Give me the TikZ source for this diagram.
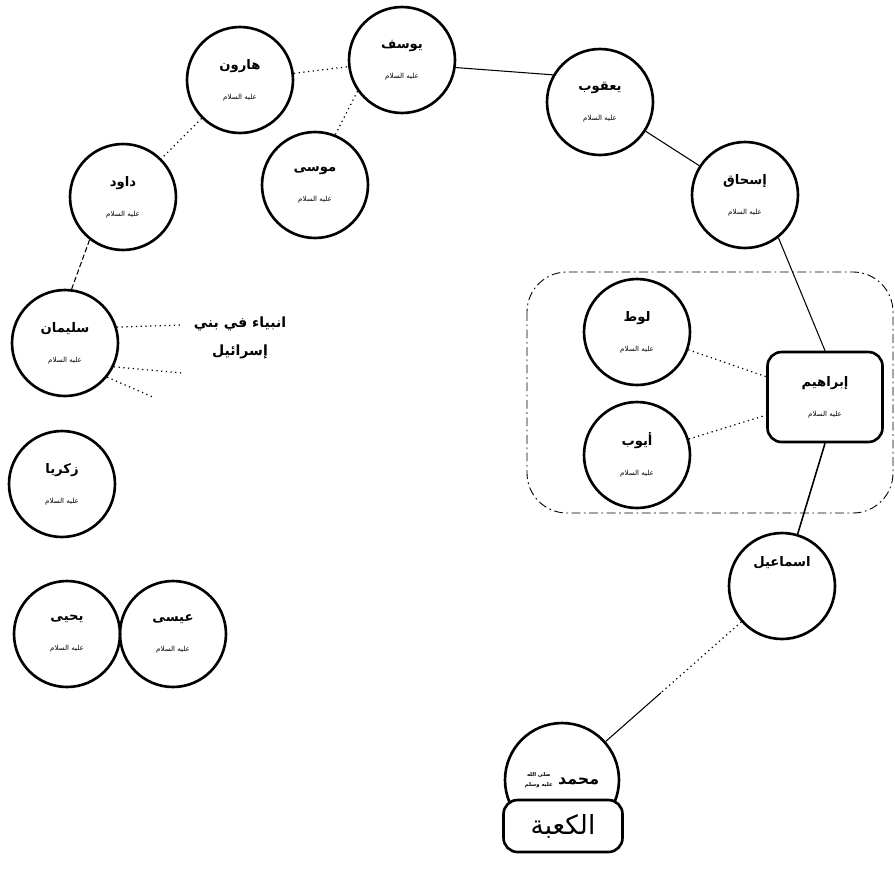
\documentclass[tikz,border=0pt]{standalone}
\usepackage{fontspec}
\newfontfamily\arabicfont[Script=Arabic]{DejaVu Sans}
\TeXXeTstate=1
\usetikzlibrary{calc}
\newcommand{\ar}[1]{{\arabicfont\beginR #1\endR}}
\newcommand{\nabi}[1]{\ar{\bfseries #1}\\[8pt]{\fontsize{4}{5}\selectfont\ar{عليه السلام}}}

\begin{document}
\begin{tikzpicture}[x=0.02cm, y=-0.02cm,
    prophet/.style={circle, draw, line width=1.5pt, minimum size=2.12cm, inner sep=0pt, align=center, font=\fontsize{7.5}{9}\selectfont},
    frame/.style={draw, rounded corners=8pt, line width=1.5pt, inner sep=0pt, align=center, font=\fontsize{7.5}{9}\selectfont},
    link/.style={line width=0.6pt},
    faint/.style={line width=0.7pt, dotted},
    group/.style={line width=0.5pt, dash pattern=on 5pt off 2pt on 1pt off 2pt, rounded corners=0.8cm}]
    \useasboundingbox (0,0) rectangle (895,876);

    \node[prophet] (yusuf) at (402,60) {\nabi{يوسف}};
    \node[prophet] (harun) at (240,80) {\nabi{هارون}};
    \node[prophet] (yaqub) at (600,102) {\nabi{يعقوب}};
    \node[prophet] (musa) at (315,185) {\nabi{موسى}};
    \node[prophet] (dawud) at (123,197) {\nabi{داود}};
    \node[prophet] (ishaq) at (745,195) {\nabi{إسحاق}};
    \node[prophet] (sulayman) at (65,343) {\nabi{سليمان}};
    \node[prophet] (zakariya) at (62,484) {\nabi{زكريا}};
    \node[prophet] (yahya) at (67,634) {\nabi{يحيى}};
    \node[prophet] (isa) at (173,634) {\nabi{عيسى}};
    \node[prophet] (lut) at (637,332) {\nabi{لوط}};
    \node[prophet] (ayyub) at (637,455) {\nabi{أيوب}};
    \node[frame, minimum width=2.3cm, minimum height=1.8cm] (ibrahim) at (825,397) {\nabi{إبراهيم}};
    \node[prophet] (ismail) at (782,586) {\ar{\bfseries اسماعيل}\\[16pt]\strut};
    \node[prophet, minimum size=2.28cm, font=\fontsize{9}{11}\selectfont] (muhammad) at (562,780) {\ar{\bfseries محمد\ \raisebox{-1pt}{\fontsize{3}{3.6}\selectfont\shortstack{\ar{صلى الله}\\\ar{عليه وسلم}}}}};
    \node[frame, fill=white, minimum width=2.38cm, minimum height=1.04cm, font=\fontsize{15}{17}\selectfont] (kaaba) at (563,826) {\ar{الكعبة}};
    \node[align=center, font=\fontsize{8}{10}\selectfont] (israil) at (240,338) {\ar{\bfseries انبياء في بني}\\[6pt]\ar{\bfseries إسرائيل}};

    \coordinate (s1) at (182,325);
    \coordinate (s2) at (182,373);
    \coordinate (s3) at (155,398);
    \coordinate (half) at ($(ismail)!0.55!(muhammad)$);

    \draw[faint] (harun) -- (yusuf);
    \draw[faint] (yusuf.215) -- (musa.68);
    \draw[faint] (harun) -- (dawud);
    \draw[link, dash pattern=on 3pt off 1.5pt] (dawud.232) -- (sulayman.83);
    \draw[faint] (sulayman.17) -- (s1);
    \draw[faint] (sulayman.-26) -- (s2);
    \draw[faint] (sulayman.-39) -- (s3);
    \draw[link] (yusuf.-8) -- (yaqub.150);
    \draw[link] (yaqub) -- (ishaq);
    \draw[link] (ishaq.-52) -- (ibrahim.north);
    \draw[faint] (lut) -- (ibrahim);
    \draw[faint] (ayyub) -- (ibrahim);
    \draw[link, line width=0.9pt] (ibrahim.south) -- (ismail);
    \draw[faint] (ismail) -- (half);
    \draw[link] (half) -- (muhammad);
    \draw[group] (527,272) rectangle (893,513);
\end{tikzpicture}
\end{document}
